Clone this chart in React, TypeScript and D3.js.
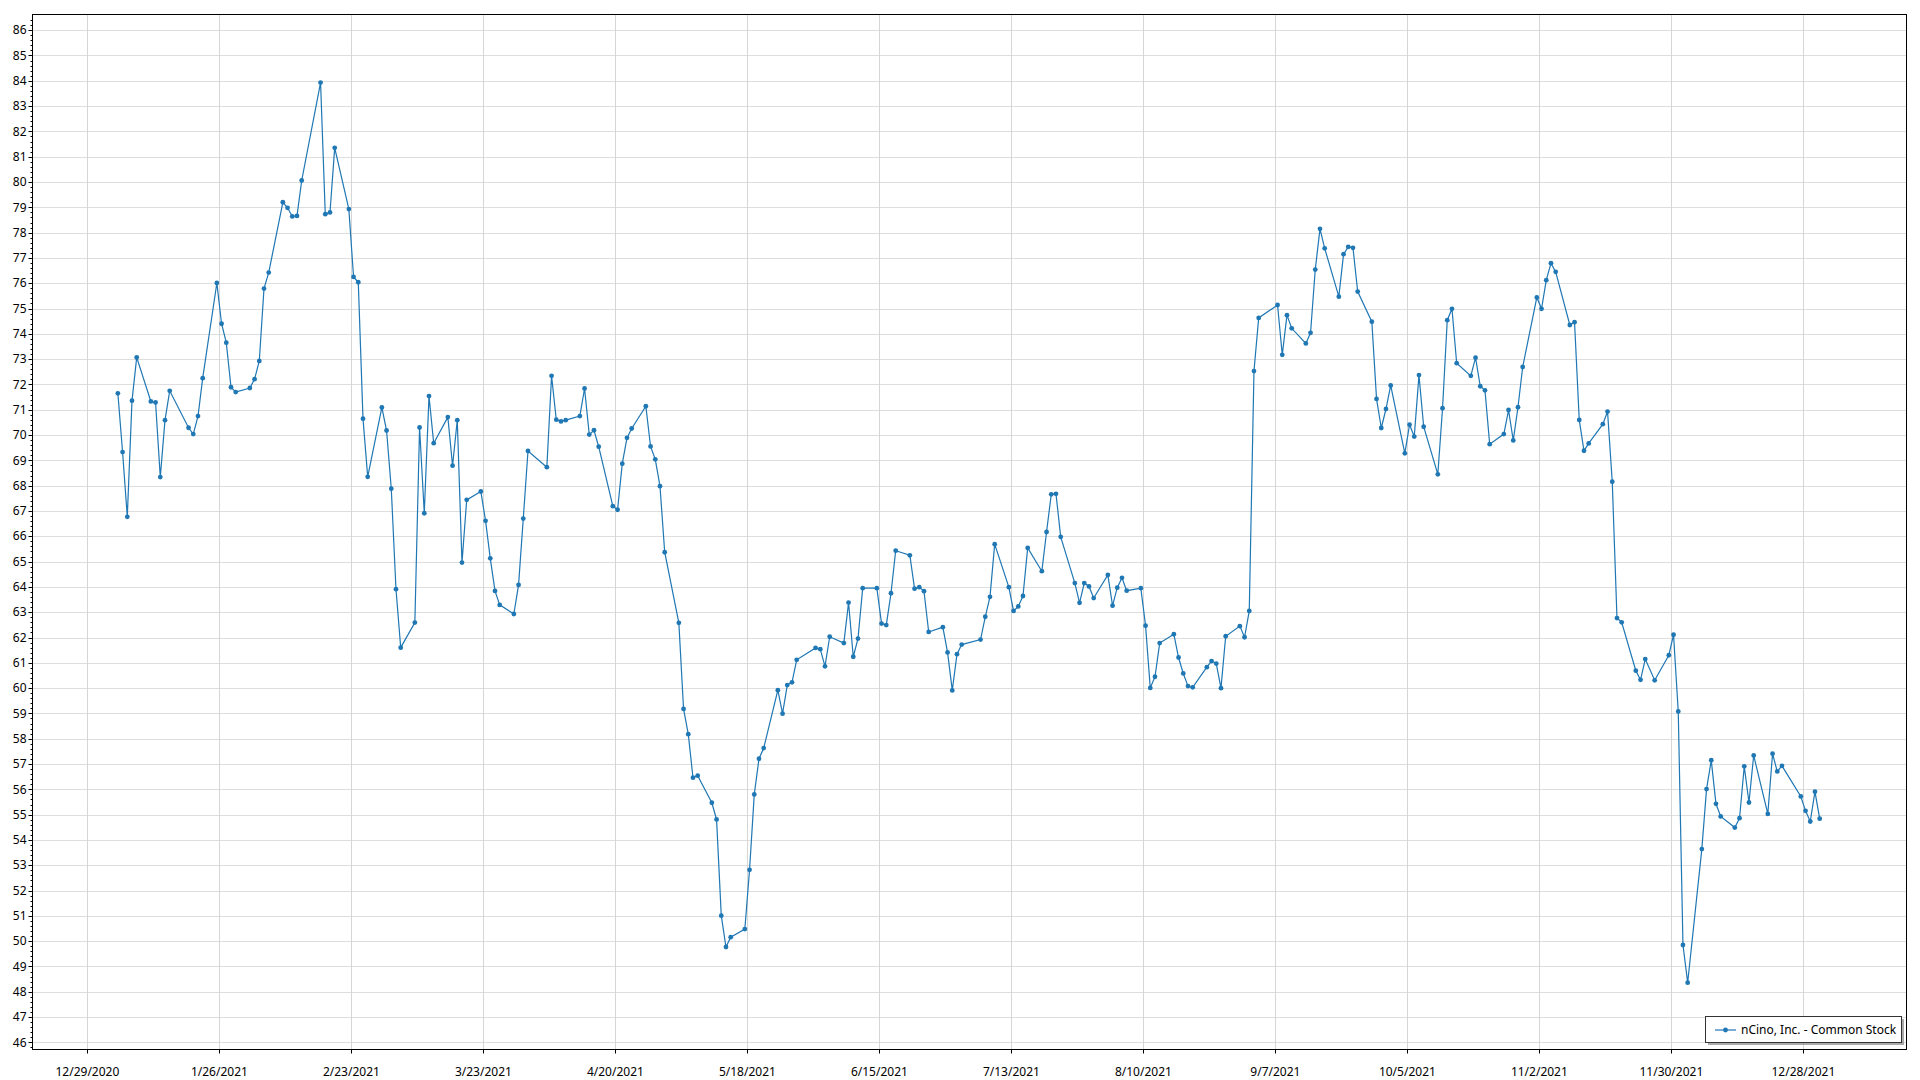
import React from 'react';
import * as d3 from 'd3';

// ---- Data (nCino, Inc. - Common Stock, daily close 2021) ----
const janDays = [4, 5, 6, 7, 8, 11, 12, 13, 14, 15, 19, 20, 21, 22, 25, 26, 27, 28, 29];
const janValues = [71.65, 69.33, 66.77, 71.36, 73.07, 71.33, 71.29, 68.34, 70.59, 71.75, 70.29, 70.04, 70.75, 72.25, 76.01, 74.4, 73.65, 71.89, 71.7];

const febDays = [1, 2, 3, 4, 5, 8, 9, 10, 11, 12, 16, 17, 18, 19, 22, 23, 24, 25, 26];
const febValues = [71.86, 72.21, 72.93, 75.79, 76.42, 79.2, 78.98, 78.64, 78.66, 80.06, 83.93, 78.73, 78.8, 81.35, 78.93, 76.25, 76.04, 70.65, 68.35];

const marDays = [1, 2, 3, 4, 5, 8, 9, 10, 11, 12, 15, 16, 17, 18, 19, 22, 23, 24, 25, 26, 29, 30, 31];
const marValues = [71.09, 70.18, 67.88, 63.91, 61.6, 62.59, 70.3, 66.91, 71.54, 69.68, 70.71, 68.79, 70.59, 64.96, 67.44, 67.77, 66.61, 65.13, 63.84, 63.29, 62.93, 64.08, 66.7];

const aprDays = [1, 5, 6, 7, 8, 9, 12, 13, 14, 15, 16, 19, 20, 21, 22, 23, 26, 27, 28, 29, 30];
const aprValues = [69.37, 68.73, 72.34, 70.61, 70.54, 70.59, 70.75, 71.84, 70.02, 70.19, 69.54, 67.19, 67.05, 68.87, 69.89, 70.26, 71.14, 69.55, 69.04, 67.98, 65.37];

const mayDays = [3, 4, 5, 6, 7, 10, 11, 12, 13, 14, 17, 18, 19, 20, 21, 24, 25, 26, 27, 28];
const mayValues = [62.58, 59.18, 58.18, 56.46, 56.54, 55.47, 54.81, 51.01, 49.77, 50.16, 50.48, 52.82, 55.8, 57.21, 57.63, 59.92, 58.99, 60.12, 60.23, 61.12];

const junDays = [1, 2, 3, 4, 7, 8, 9, 10, 11, 14, 15, 16, 17, 18, 21, 22, 23, 24, 25, 28, 29, 30];
const junValues = [61.59, 61.54, 60.86, 62.03, 61.78, 63.38, 61.24, 61.96, 63.95, 63.95, 62.55, 62.49, 63.75, 65.43, 65.25, 63.93, 63.99, 63.83, 62.22, 62.41, 61.41, 59.91];

const julDays = [1, 2, 6, 7, 8, 9, 12, 13, 14, 15, 16, 19, 20, 21, 22, 23, 26, 27, 28, 29, 30];
const julValues = [61.34, 61.72, 61.92, 62.82, 63.61, 65.69, 63.99, 63.05, 63.23, 63.64, 65.54, 64.62, 66.17, 67.66, 67.68, 65.98, 64.15, 63.37, 64.15, 64.02, 63.56];

const augDays = [2, 3, 4, 5, 6, 9, 10, 11, 12, 13, 16, 17, 18, 19, 20, 23, 24, 25, 26, 27, 30, 31];
const augValues = [64.47, 63.26, 63.97, 64.36, 63.85, 63.95, 62.47, 60.01, 60.45, 61.78, 62.13, 61.21, 60.58, 60.08, 60.03, 60.83, 61.07, 60.97, 60.0, 62.05, 62.45, 62.01];

const sepDays = [1, 2, 3, 7, 8, 9, 10, 13, 14, 15, 16, 17, 20, 21, 22, 23, 24, 27, 28, 29, 30];
const sepValues = [63.05, 72.53, 74.63, 75.14, 73.17, 74.74, 74.22, 73.62, 74.04, 76.54, 78.15, 77.38, 75.47, 77.15, 77.44, 77.4, 75.67, 74.48, 71.43, 70.28, 71.03];

const octDays = [1, 4, 5, 6, 7, 8, 11, 12, 13, 14, 15, 18, 19, 20, 21, 22, 25, 26, 27, 28, 29];
const octValues = [71.96, 69.28, 70.41, 69.94, 72.37, 70.33, 68.45, 71.06, 74.54, 74.99, 72.84, 72.34, 73.06, 71.93, 71.77, 69.64, 70.04, 70.99, 69.79, 71.1, 72.69];

const novDays = [1, 2, 3, 4, 5, 8, 9, 10, 11, 12, 15, 16, 17, 18, 19, 22, 23, 24, 26, 29, 30];
const novValues = [75.44, 74.99, 76.12, 76.79, 76.45, 74.35, 74.46, 70.6, 69.38, 69.67, 70.43, 70.93, 68.16, 62.77, 62.6, 60.69, 60.33, 61.15, 60.31, 61.3, 62.11];

const decDays = [1, 2, 3, 6, 7, 8, 9, 10, 13, 14, 15, 16, 17, 20, 21, 22, 23, 27, 28, 29, 30, 31];
const decValues = [59.08, 49.85, 48.36, 53.64, 56.01, 57.15, 55.43, 54.93, 54.49, 54.86, 56.91, 55.48, 57.34, 55.03, 57.41, 56.71, 56.93, 55.72, 55.15, 54.73, 55.91, 54.84];

const xTickLabels = [
  '12/29/2020', '1/26/2021', '2/23/2021', '3/23/2021', '4/20/2021', '5/18/2021', '6/15/2021',
  '7/13/2021', '8/10/2021', '9/7/2021', '10/5/2021', '11/2/2021', '11/30/2021', '12/28/2021',
];
const yTickValues = [46, 47, 48, 49, 50, 51, 52, 53, 54, 55, 56, 57, 58, 59, 60, 61, 62, 63, 64, 65, 66, 67, 68, 69, 70, 71, 72, 73, 74, 75, 76, 77, 78, 79, 80, 81, 82, 83, 84, 85, 86];
const seriesName = 'nCino, Inc. - Common Stock';

// ---- Build rows ----
const monthDays = [janDays, febDays, marDays, aprDays, mayDays, junDays, julDays, augDays, sepDays, octDays, novDays, decDays];
const monthValues = [janValues, febValues, marValues, aprValues, mayValues, junValues, julValues, augValues, sepValues, octValues, novValues, decValues];
const SAMPLE_HOUR = 11;
const rows: { date: Date; value: number }[] = [];
monthDays.forEach((days, m) => {
  days.forEach((d, i) => rows.push({ date: new Date(2021, m, d, SAMPLE_HOUR), value: monthValues[m][i] }));
});

const parseTick = d3.timeParse('%m/%d/%Y');
const xTicks = xTickLabels.map((l) => ({ label: l, date: parseTick(l) as Date }));

// ---- Layout ----
const W = 1920;
const H = 1080;
const L = 32.5;
const T = 14.5;
const R = 1906.5;
const B = 1049.5;
const FONT = "'Segoe UI', 'Noto Sans', 'Open Sans', sans-serif";
const COLOR = '#1f77b4';

const t0 = xTicks[0].date;
const x = d3
  .scaleTime()
  .domain([d3.timeHour.offset(t0, -11.52 * 24), d3.timeHour.offset(t0, 385.9 * 24)])
  .range([L + 0.5, R]);
const y = d3.scaleLinear().domain([45.7, 86.62]).range([B + 0.5, T]);

const line = d3
  .line<{ date: Date; value: number }>()
  .x((d) => x(d.date))
  .y((d) => y(d.value));

const minorY = d3.range(45.8, 86.6, 0.2).filter((v) => Math.abs(v - Math.round(v)) > 0.01);

export default function App() {
  const px = (v: number) => Math.round(v) + 0.5;
  return (
    <svg
      width={W}
      height={H}
      style={{ position: 'fixed', left: 0, top: 0, background: '#fff', display: 'block' }}
      fontFamily={FONT}
    >
      <rect x={0} y={0} width={W} height={H} fill="#fff" />
      {/* gridlines */}
      <g>
        {yTickValues.map((v) => (
          <line key={'gy' + v} x1={L} x2={R} y1={px(y(v))} y2={px(y(v))} stroke="#dedede" strokeWidth={1} />
        ))}
        {xTicks.map((t) => (
          <line key={'gx' + t.label} x1={px(x(t.date))} x2={px(x(t.date))} y1={T} y2={B} stroke="#d6d6d6" strokeWidth={1} />
        ))}
      </g>
      {/* plot frame */}
      <rect x={L} y={T} width={R - L} height={B - T} fill="none" stroke="#000" strokeWidth={1} />
      {/* y axis ticks & labels */}
      <g>
        {minorY.map((v, i) => (
          <line key={'my' + i} x1={L - 2} x2={L} y1={px(y(v))} y2={px(y(v))} stroke="#000" strokeWidth={1} />
        ))}
        {yTickValues.map((v) => (
          <g key={'ty' + v}>
            <line x1={L - 4} x2={L} y1={px(y(v))} y2={px(y(v))} stroke="#000" strokeWidth={1} />
            <text x={L - 6} y={y(v)} dy="0.35em" textAnchor="end" fontSize={12} fill="#000">
              {v}
            </text>
          </g>
        ))}
      </g>
      {/* x axis ticks & labels */}
      <g>
        {xTicks.map((t) => (
          <g key={'tx' + t.label}>
            <line x1={px(x(t.date))} x2={px(x(t.date))} y1={B} y2={B + 4} stroke="#000" strokeWidth={1} />
            <text x={x(t.date)} y={B + 26} textAnchor="middle" fontSize={12} fill="#000">
              {t.label}
            </text>
          </g>
        ))}
      </g>
      {/* series */}
      <path d={line(rows) || ''} fill="none" stroke={COLOR} strokeWidth={1.2} />
      <g fill={COLOR}>
        {rows.map((d, i) => (
          <circle key={i} cx={x(d.date)} cy={y(d.value)} r={2.4} />
        ))}
      </g>
      {/* legend */}
      <g>
        <rect x={1708} y={1019} width={196} height={26} fill="#888" opacity={0.7} />
        <rect x={1705.5} y={1016.5} width={196} height={26} fill="#fff" stroke="#333" strokeWidth={1} />
        <line x1={1715} x2={1736} y1={1030} y2={1030} stroke={COLOR} strokeWidth={1.2} />
        <circle cx={1725.5} cy={1030} r={2.4} fill={COLOR} />
        <text x={1741} y={1030} dy="0.35em" fontSize={12} fill="#000">
          {seriesName}
        </text>
      </g>
    </svg>
  );
}
